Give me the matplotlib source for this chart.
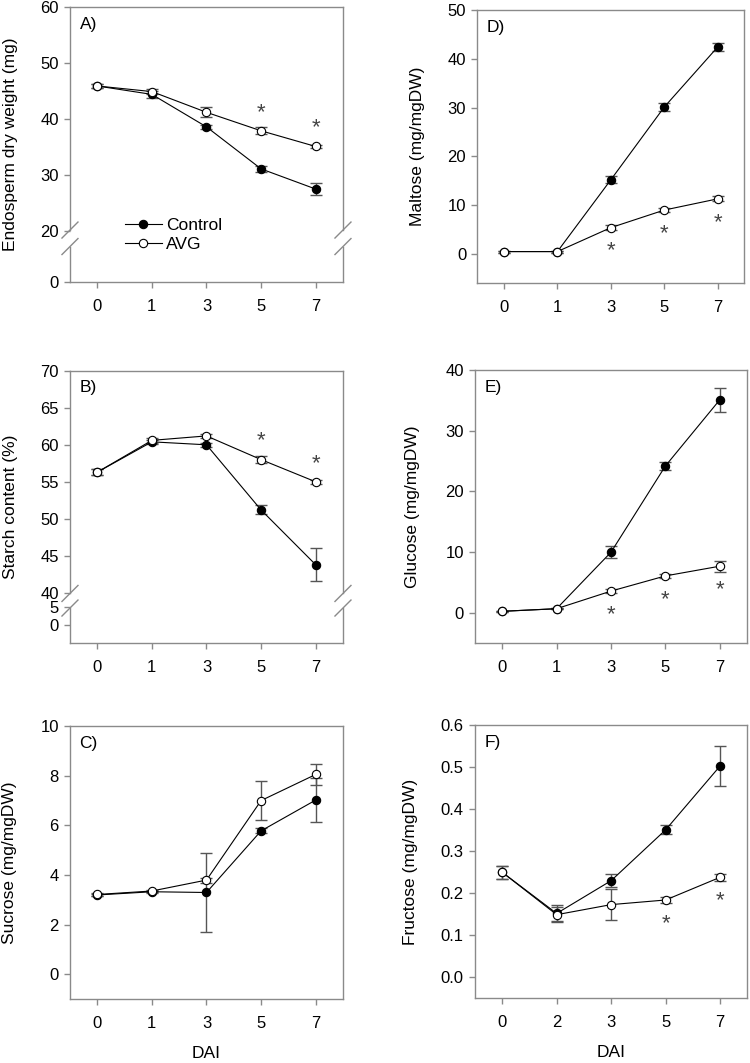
import matplotlib
matplotlib.use('Agg')
import matplotlib.pyplot as plt
import numpy as np

plt.rcParams['font.family'] = ['Liberation Sans', 'DejaVu Sans']

# days after imbibition, shown as evenly spaced categories
days = ['0', '1', '3', '5', '7']
daysF = ['0', '2', '3', '5', '7']

# A) endosperm dry weight (mg)
dwCtrl = [45.9, 44.4, 38.6, 31.1, 27.5]
dwCtrlErr = [0.3, 0.6, 0.3, 0.5, 1.0]
dwAvg = [45.9, 44.9, 41.2, 37.9, 35.1]
dwAvgErr = [0.3, 0.5, 0.9, 0.6, 0.3]
dwSig = [3, 4]

# B) starch content (%)
stCtrl = [56.3, 60.4, 60.0, 51.2, 43.8]
stCtrlErr = [0.4, 0.3, 0.3, 0.6, 2.2]
stAvg = [56.3, 60.6, 61.2, 58.0, 55.0]
stAvgErr = [0.4, 0.3, 0.3, 0.5, 0.3]
stSig = [3, 4]

# C) sucrose
suCtrl = [3.2, 3.33, 3.3, 5.78, 7.02]
suCtrlErr = [0.05, 0.05, 1.6, 0.1, 0.87]
suAvg = [3.22, 3.36, 3.8, 7.0, 8.05]
suAvgErr = [0.05, 0.05, 0.1, 0.8, 0.42]
suSig = []

# D) maltose
maCtrl = [0.5, 0.5, 15.2, 30.1, 42.4]
maCtrlErr = [0.2, 0.2, 0.7, 0.8, 0.8]
maAvg = [0.5, 0.5, 5.4, 9.0, 11.3]
maAvgErr = [0.2, 0.2, 0.5, 0.4, 0.5]
maSig = [2, 3, 4]

# E) glucose
glCtrl = [0.27, 0.7, 10.0, 24.2, 35.1]
glCtrlErr = [0.1, 0.1, 1.0, 0.6, 2.0]
glAvg = [0.27, 0.7, 3.6, 6.1, 7.7]
glAvgErr = [0.1, 0.1, 0.3, 0.3, 0.9]
glSig = [2, 3, 4]

# F) fructose
frCtrl = [0.25, 0.152, 0.23, 0.351, 0.503]
frCtrlErr = [0.016, 0.019, 0.016, 0.011, 0.047]
frAvg = [0.25, 0.149, 0.173, 0.184, 0.238]
frAvgErr = [0.016, 0.018, 0.037, 0.007, 0.009]
frSig = [3, 4]

SPINE = '#8a8a8a'
ERR = '#555555'
W, H = 750, 1063


def brokenScale(ax, dataPts, posPts):
    fwd = lambda y: np.interp(y, dataPts, posPts)
    inv = lambda p: np.interp(p, posPts, dataPts)
    ax.set_yscale('function', functions=(fwd, inv))


def drawBreak(ax, rect, lo, hi):
    # redraw left/right spines with a gap and // marks at the gap ends
    ax.spines['left'].set_visible(False)
    ax.spines['right'].set_visible(False)
    dx = 8.0 / (rect[2] * W)
    dy = 8.0 / (rect[3] * H)
    kw = dict(transform=ax.transAxes, clip_on=False, color=SPINE, lw=1)
    for x in (0, 1):
        ax.plot([x, x], [hi, 1], **kw)
        ax.plot([x, x], [0, lo], **kw)
        for yc in (lo, hi):
            ax.plot([x - dx, x + dx], [yc - dy, yc + dy], **kw)


def makePanel(rect, cats, ctrl, ctrlErr, avg, avgErr, sig, sigAbove, ylabel, letter, ylim, yticks, ylabelX, xlabel=None, yfmt=None):
    ax = fig.add_axes(rect)
    x = np.arange(len(cats))
    ax.errorbar(x, ctrl, yerr=ctrlErr, fmt='none', ecolor=ERR, elinewidth=1, capsize=4.5, capthick=1, zorder=2)
    ax.errorbar(x, avg, yerr=avgErr, fmt='none', ecolor=ERR, elinewidth=1, capsize=4.5, capthick=1, zorder=2)
    ax.plot(x, ctrl, '-', color='black', lw=0.8, marker='o', ms=6, mfc='black', mec='black', mew=0.8, label='Control', zorder=3)
    ax.plot(x, avg, '-', color='black', lw=0.8, marker='o', ms=6, mfc='white', mec='black', mew=0.8, label='AVG', zorder=4)
    off = 21 if sigAbove else -21
    for i in sig:
        ax.annotate('*', (x[i], avg[i]), xytext=(0, off), textcoords='offset pixels',
                    ha='center', va='center_baseline', fontsize=16, color='#444444')
    ax.set_xlim(-0.5, len(cats) - 0.5)
    ax.set_ylim(*ylim)
    ax.set_xticks(x)
    ax.set_xticklabels(cats)
    ax.set_yticks(yticks)
    if yfmt:
        ax.set_yticklabels([yfmt % t for t in yticks])
    ax.tick_params(axis='x', direction='out', length=4, width=1, color=SPINE, pad=8, labelsize=12)
    ax.tick_params(axis='y', direction='out', length=4, width=1, color=SPINE, pad=4, labelsize=12)
    for s in ax.spines.values():
        s.set_color(SPINE)
        s.set_linewidth(1)
    ax.set_ylabel(ylabel, fontsize=12.5)
    ax.yaxis.set_label_coords(ylabelX, 0.5)
    ax.text(0.035, 0.965, letter, transform=ax.transAxes, ha='left', va='top', fontsize=12.5)
    if xlabel:
        ax.set_xlabel(xlabel, fontsize=12.5, labelpad=11)
    return ax


fig = plt.figure(figsize=(7.5, 10.63), dpi=100)

rA = [0.0933, 0.7347, 0.364, 0.2587]
rB = [0.0933, 0.3948, 0.364, 0.2564]
rC = [0.0933, 0.0599, 0.364, 0.2571]
rD = [0.6364, 0.7335, 0.356, 0.2571]
rE = [0.6333, 0.3948, 0.3627, 0.2571]
rF = [0.6333, 0.0609, 0.3631, 0.2568]

axA = makePanel(rA, days, dwCtrl, dwCtrlErr, dwAvg, dwAvgErr, dwSig, True,
                'Endosperm dry weight (mg)', 'A)', (0, 60), [0, 20, 30, 40, 50, 60], -0.19)
brokenScale(axA, [-100, 20, 200], [20 - 120 * 0.455, 20, 200])
axA.set_ylim(0, 60)
axA.set_yticks([0, 20, 30, 40, 50, 60])
drawBreak(axA, rA, 0.129, 0.189)
axA.legend(loc='upper left', bbox_to_anchor=(0.17, 0.265), frameon=False, fontsize=12.5,
           handlelength=2.1, handletextpad=0.25, labelspacing=0.2, borderpad=0)

axB = makePanel(rB, days, stCtrl, stCtrlErr, stAvg, stAvgErr, stSig, True,
                'Starch content (%)', 'B)', (-5, 70), [0, 5, 40, 45, 50, 55, 60, 65, 70], -0.19)
brokenScale(axB, [-100, 5, 40, 200], [40 - 1.95 - 105 * 0.487, 40 - 1.95, 40, 200])
axB.set_ylim(-5, 70)
axB.set_yticks([0, 5, 40, 45, 50, 55, 60, 65, 70])
drawBreak(axB, rB, 0.1295, 0.183)

makePanel(rC, days, suCtrl, suCtrlErr, suAvg, suAvgErr, suSig, True,
          'Sucrose (mg/mgDW)', 'C)', (-1, 10), [0, 2, 4, 6, 8, 10], -0.195, xlabel='DAI')
makePanel(rD, days, maCtrl, maCtrlErr, maAvg, maAvgErr, maSig, False,
          'Maltose (mg/mgDW)', 'D)', (-6, 50), [0, 10, 20, 30, 40, 50], -0.195)
makePanel(rE, days, glCtrl, glCtrlErr, glAvg, glAvgErr, glSig, False,
          'Glucose (mg/mgDW)', 'E)', (-5, 40), [0, 10, 20, 30, 40], -0.202)
makePanel(rF, daysF, frCtrl, frCtrlErr, frAvg, frAvgErr, frSig, False,
          'Fructose (mg/mgDW)', 'F)', (-0.05, 0.6), [0, 0.1, 0.2, 0.3, 0.4, 0.5, 0.6], -0.21,
          xlabel='DAI', yfmt='%.1f')

fig.savefig('out.png', dpi=100)
